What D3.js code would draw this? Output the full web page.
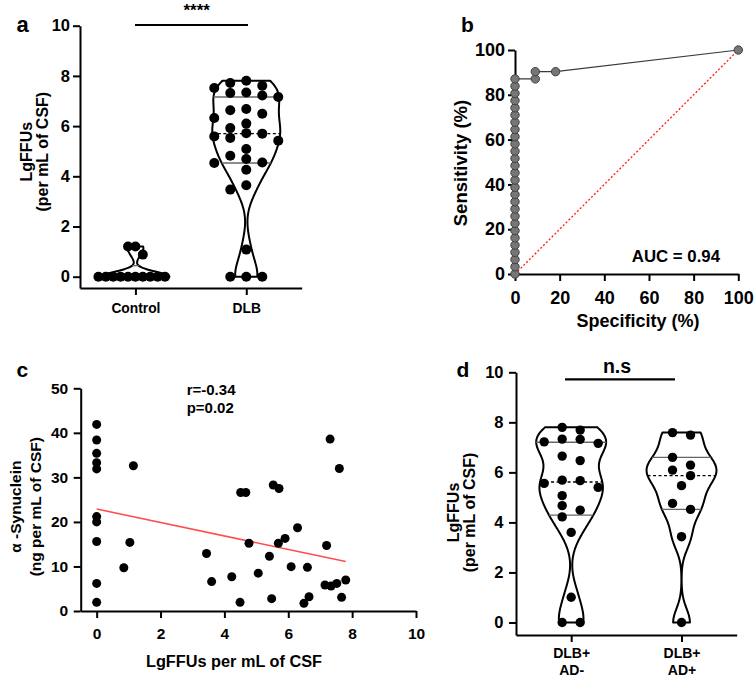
<!DOCTYPE html>
<html><head><meta charset="utf-8">
<script src="https://cdn.jsdelivr.net/npm/d3@7"></script>
<style>
body{margin:0;background:#fff}
svg{display:block}
text{font-family:"Liberation Sans",Arial,sans-serif;font-weight:bold;fill:#000}
</style>
</head><body>
<svg id="chart" width="756" height="681"></svg>
<script>
// ---------- DATA ----------
// Panel a
const groupsA = ["Control", "DLB"];
const controlValues = [0,0,0,0,0,0,0,0,0,0,0.88,1.2,1.2];
const dlbValues = [7.81,7.72,7.61,7.52,7.34,7.32,7.22,7.16,6.68,6.63,6.49,6.32,6.1,5.92,5.72,5.70,5.59,5.53,5.42,5.09,4.82,4.69,4.55,4.53,4.26,3.64,3.47,1.08,0,0,0];
const yTicksA = [0,2,4,6,8,10];
const sigA = "****";
// Panel b (ROC)
const rocSpecificity = [0,0,0,0,0,0,0,0,0,0,0,0,0,0,0,0,0,0,0,0,0,0,0,0,0,0,0,0,9.09,9.09,18.18,100];
const rocSensitivity = [0,3.23,6.45,9.68,12.9,16.13,19.35,22.58,25.81,29.03,32.26,35.48,38.71,41.94,45.16,48.39,51.61,54.84,58.06,61.29,64.52,67.74,70.97,74.19,77.42,80.65,83.87,87.1,87.1,90.32,90.32,100];
const refLineX = [0, 100];
const refLineY = [0, 100];
const rocTicks = [0,20,40,60,80,100];
const aucLabel = "AUC = 0.94";
// Panel c
const synX = [0,0,0,0,0,0,0,0,0,0,1.15,1.04,0.85,3.44,3.6,7.31,7.6,5.53,5.71,4.51,4.67,6.29,4.77,5.9,5.69,7.2,5.41,6.09,6.6,4.23,5.06,7.15,7.34,7.52,7.8,4.49,5.48,6.49,6.65,7.67];
const synY = [41.9,38.4,35.4,33.3,31.9,21.2,20.0,15.6,6.2,1.95,32.6,15.4,9.7,12.9,6.6,38.6,32.0,28.3,27.5,26.6,26.6,18.7,15.2,16.3,15.2,14.7,12.3,9.95,9.8,7.7,8.5,5.84,5.6,6.2,6.96,1.95,2.77,1.72,3.2,3.07];
const fitX = [0, 7.8];
const fitY = [22.9, 11.1];
const xTicksC = [0,2,4,6,8,10];
const yTicksC = [0,10,20,30,40,50];
const statsC = ["r=-0.34", "p=0.02"];
// Panel d
const groupsD = ["DLB+|AD-", "DLB+|AD+"];
const adNegValues = [7.8,7.69,7.33,7.22,7.32,7.16,6.47,6.65,5.56,5.67,5.69,5.4,5.07,4.67,4.49,4.22,3.6,1.01,0,0];
const adPosValues = [7.49,7.59,6.6,6.09,6.29,5.87,5.47,4.52,4.76,3.43,0];
const yTicksD = [0,2,4,6,8,10];
const sigD = "n.s";

// ---------- HELPERS ----------
const FONT = '"Liberation Sans", Arial, sans-serif';
const svg = d3.select("#chart");

function styleAxis(g, fs) {
  g.attr("font-family", FONT).attr("font-size", fs).attr("font-weight", "bold");
  g.select(".domain").attr("stroke", "#000").attr("stroke-width", 2);
  g.selectAll(".tick line").attr("stroke", "#000").attr("stroke-width", 2);
  g.selectAll(".tick text").attr("fill", "#000");
}

function density(values, bw, t) {
  return d3.sum(values, v => Math.exp(-0.5 * ((t - v) / bw) ** 2));
}

// quartiles with the (n+1)p rule
function quart(sorted, p) {
  const n = sorted.length;
  const pos = Math.min(Math.max((n + 1) * p - 1, 0), n - 1);
  const lo = Math.floor(pos), hi = Math.ceil(pos);
  return sorted[lo] + (pos - lo) * (sorted[hi] - sorted[lo]);
}

function drawViolin(g, values, xc, yScale, halfMax, bw) {
  const lo = d3.min(values), hi = d3.max(values);
  const n = 120;
  const grid = d3.range(n + 1).map(i => lo + (hi - lo) * i / n);
  const dens = grid.map(t => density(values, bw, t));
  const dmax = d3.max(dens);
  const w = d => d / dmax * halfMax;
  const area = d3.area()
    .y((d, i) => yScale(grid[i]))
    .x0((d) => xc - w(d))
    .x1((d) => xc + w(d))
    .curve(d3.curveBasis);
  g.append("path").attr("d", area(dens))
    .attr("fill", "none").attr("stroke", "#000").attr("stroke-width", 2).attr("stroke-linejoin", "round");
  const sorted = values.slice().sort(d3.ascending);
  [0.25, 0.5, 0.75].forEach(q => {
    const qv = quart(sorted, q);
    const hw = w(density(values, bw, qv));
    if (hw < 0.5 || qv <= lo) return;
    g.append("line")
      .attr("x1", xc - hw).attr("x2", xc + hw)
      .attr("y1", yScale(qv)).attr("y2", yScale(qv))
      .attr("stroke", q === 0.5 ? "#000" : "#666")
      .attr("stroke-width", 1.3)
      .attr("stroke-dasharray", q === 0.5 ? "3,2.5" : null);
  });
}

// column-grid swarm; half=true uses half-step columns for points that have neighbours
function swarm(values, yScale, step, r, half) {
  const items = values.map(v => ({ v, y: yScale(v) })).sort((a, b) => b.v - a.v);
  const placed = [];
  items.forEach(d => {
    const isolated = items.filter(o => o !== d && Math.abs(o.y - d.y) < 2 * r).length === 0;
    const useHalf = half && !isolated;
    for (let k = 0; k < 60; k++) {
      let col;
      if (useHalf) {
        const m = Math.floor(k / 2) + 0.5;
        col = k % 2 ? m : -m;
      } else {
        col = k === 0 ? 0 : (k % 2 ? -Math.ceil(k / 2) : Math.ceil(k / 2));
      }
      const clash = placed.some(p => Math.abs(p.col - col) < 0.01 && Math.abs(p.y - d.y) < 2 * r - 0.5);
      if (!clash) { placed.push({ v: d.v, y: d.y, col, dx: col * step }); break; }
    }
  });
  return placed;
}

function drawSwarm(g, values, xc, yScale, step, r, half) {
  g.selectAll(null).data(swarm(values, yScale, step, r, half)).enter().append("circle")
    .attr("cx", d => xc + d.dx).attr("cy", d => d.y).attr("r", r).attr("fill", "#000");
}

function rotText(x, y, txt, fs) {
  svg.append("text").attr("transform", `translate(${x},${y}) rotate(-90)`)
    .attr("text-anchor", "middle").attr("font-size", fs).text(txt);
}

// ---------- PANEL A ----------
{
  const g = svg.append("g");
  const y = d3.scaleLinear().domain([-0.45, 10]).range([288, 25.7]);
  const x = d3.scalePoint().domain(groupsA).range([80, 301.7]).padding(0.5);
  g.append("g").attr("transform", "translate(80,0)")
    .call(d3.axisLeft(y).tickValues(yTicksA).tickSize(7).tickPadding(3).tickSizeOuter(0))
    .call(a => styleAxis(a, 16.5));
  g.append("g").attr("transform", "translate(0,288)")
    .call(d3.axisBottom(x).tickSize(7).tickPadding(8).tickSizeOuter(0))
    .call(a => styleAxis(a, 13.8));
  drawViolin(g, controlValues, x("Control"), y, 34, 0.2);
  drawViolin(g, dlbValues, x("DLB"), y, 34, 0.6);
  drawSwarm(g, controlValues, x("Control"), y, 7.4, 5, false);
  drawSwarm(g, dlbValues, x("DLB"), y, 16, 5, false);
  g.append("line").attr("x1", 135).attr("x2", 248).attr("y1", 25).attr("y2", 25)
    .attr("stroke", "#000").attr("stroke-width", 2.2);
  g.append("text").attr("x", 196.7).attr("y", 15.5).attr("text-anchor", "middle")
    .attr("font-size", 17).text(sigA);
  svg.append("text").attr("x", 16.5).attr("y", 32.3).attr("font-size", 22).text("a");
  rotText(31.5, 151.7, "LgFFUs", 16);
  rotText(47.5, 151.7, "(per mL of CSF)", 16);
}

// ---------- PANEL B ----------
{
  const g = svg.append("g");
  const x = d3.scaleLinear().domain([0, 100]).range([515, 738.3]);
  const y = d3.scaleLinear().domain([0, 100]).range([274, 50]);
  g.append("g").attr("transform", "translate(515,0)")
    .call(d3.axisLeft(y).tickValues(rocTicks).tickSize(7).tickPadding(3).tickSizeOuter(0))
    .call(a => styleAxis(a, 18));
  g.append("g").attr("transform", "translate(0,274)")
    .call(d3.axisBottom(x).tickValues(rocTicks).tickSize(7).tickPadding(10.5).tickSizeOuter(0))
    .call(a => styleAxis(a, 18));
  const pts = rocSpecificity.map((s, i) => [s, rocSensitivity[i]]);
  g.append("path").attr("d", d3.line().x(d => x(d[0])).y(d => y(d[1]))(refLineX.map((v, i) => [v, refLineY[i]])))
    .attr("fill", "none").attr("stroke", "#ff1a1a").attr("stroke-width", 1.3).attr("stroke-dasharray", "2,2");
  g.append("path").attr("d", d3.line().x(d => x(d[0])).y(d => y(d[1]))(pts))
    .attr("fill", "none").attr("stroke", "#3a3a3a").attr("stroke-width", 1.2);
  g.selectAll(null).data(pts).enter().append("circle")
    .attr("cx", d => x(d[0])).attr("cy", d => y(d[1])).attr("r", 4.2)
    .attr("fill", "#767676").attr("stroke", "#404040").attr("stroke-width", 1);
  g.append("text").attr("x", 720).attr("y", 262.3).attr("text-anchor", "end")
    .attr("font-size", 16.8).text(aucLabel);
  svg.append("text").attr("x", 461).attr("y", 32.3).attr("font-size", 21).text("b");
  rotText(466.5, 163, "Sensitivity (%)", 18.5);
  svg.append("text").attr("x", 638).attr("y", 326.5).attr("text-anchor", "middle")
    .attr("font-size", 18).text("Specificity (%)");
}

// ---------- PANEL C ----------
{
  const g = svg.append("g");
  const x = d3.scaleLinear().domain([-0.5, 10]).range([80.7, 416]);
  const y = d3.scaleLinear().domain([0, 50]).range([611, 388.3]);
  g.append("g").attr("transform", "translate(80.7,0)")
    .call(d3.axisLeft(y).tickValues(yTicksC).tickSize(7).tickPadding(5.5).tickSizeOuter(0))
    .call(a => styleAxis(a, 15.5));
  g.append("g").attr("transform", "translate(0,611)")
    .call(d3.axisBottom(x).tickValues(xTicksC).tickSize(7).tickPadding(10).tickSizeOuter(0))
    .call(a => styleAxis(a, 15.5));
  g.append("path").attr("d", d3.line().x(d => x(d[0])).y(d => y(d[1]))(fitX.map((v, i) => [v, fitY[i]])))
    .attr("fill", "none").attr("stroke", "#ff4d4d").attr("stroke-width", 1.5);
  g.selectAll(null).data(synX.map((v, i) => [v, synY[i]])).enter().append("circle")
    .attr("cx", d => x(d[0])).attr("cy", d => y(d[1])).attr("r", 4.5).attr("fill", "#000");
  g.append("text").attr("x", 186.7).attr("y", 394.5).attr("font-size", 15).text(statsC[0]);
  g.append("text").attr("x", 186.7).attr("y", 413).attr("font-size", 15).text(statsC[1]);
  svg.append("text").attr("x", 16.5).attr("y", 376.7).attr("font-size", 21).text("c");
  rotText(20.5, 506.7, "α -Synuclein", 15.5);
  rotText(40.5, 506.7, "(ng per mL of CSF)", 15.5);
  svg.append("text").attr("x", 234).attr("y", 666.5).attr("text-anchor", "middle")
    .attr("font-size", 16.3).text("LgFFUs per mL of CSF");
}

// ---------- PANEL D ----------
{
  const g = svg.append("g");
  const y = d3.scaleLinear().domain([-0.5, 10]).range([635, 372.3]);
  const x = d3.scalePoint().domain(groupsD).range([516, 736.7]).padding(0.5);
  g.append("g").attr("transform", "translate(516,0)")
    .call(d3.axisLeft(y).tickValues(yTicksD).tickSize(7).tickPadding(5.5).tickSizeOuter(0))
    .call(a => styleAxis(a, 16.5));
  const xa = g.append("g").attr("transform", "translate(0,635)")
    .call(d3.axisBottom(x).tickSize(7).tickPadding(6).tickSizeOuter(0))
    .call(a => styleAxis(a, 14));
  xa.selectAll(".tick text").each(function (d) {
    const t = d3.select(this); const parts = d.split("|");
    t.text(null);
    t.append("tspan").attr("x", 0).attr("dy", "0.71em").text(parts[0]);
    t.append("tspan").attr("x", 0).attr("dy", "1.21em").text(parts[1]);
  });
  drawViolin(g, adNegValues, x(groupsD[0]), y, 35, 0.6);
  drawViolin(g, adPosValues, x(groupsD[1]), y, 35, 0.55);
  drawSwarm(g, adNegValues, x(groupsD[0]), y, 18, 4.7, true);
  drawSwarm(g, adPosValues, x(groupsD[1]), y, 18, 4.7, true);
  g.append("line").attr("x1", 565).attr("x2", 675).attr("y1", 379.3).attr("y2", 379.3)
    .attr("stroke", "#000").attr("stroke-width", 2.2);
  g.append("text").attr("x", 617).attr("y", 372.5).attr("text-anchor", "middle")
    .attr("font-size", 19.5).text(sigD);
  svg.append("text").attr("x", 456.5).attr("y", 376.7).attr("font-size", 21).text("d");
  rotText(458.5, 512.5, "LgFFUs", 16);
  rotText(475, 512.5, "(per mL of CSF)", 16);
}
</script>
</body></html>
